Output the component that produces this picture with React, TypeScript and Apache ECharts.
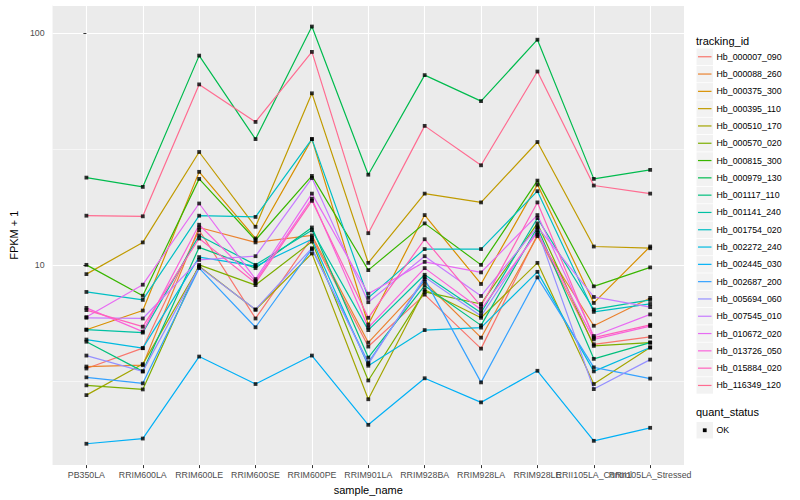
import React, { useEffect, useRef } from "react";
import * as echarts from "echarts";

const categories = [
  "PB350LA", "RRIM600LA", "RRIM600LE", "RRIM600SE", "RRIM600PE", "RRIM901LA",
  "RRIM928BA", "RRIM928LA", "RRIM928LE", "RRII105LA_Control", "RRII105LA_Stressed",
];

const trackingIds = [
  "Hb_000007_090", "Hb_000088_260", "Hb_000375_300", "Hb_000395_110", "Hb_000510_170",
  "Hb_000570_020", "Hb_000815_300", "Hb_000979_130", "Hb_001117_110", "Hb_001141_240",
  "Hb_001754_020", "Hb_002272_240", "Hb_002445_030", "Hb_002687_200", "Hb_005694_060",
  "Hb_007545_010", "Hb_010672_020", "Hb_013726_050", "Hb_015884_020", "Hb_116349_120",
];

const palette = [
  "#F8766D", "#EA8331", "#D89000", "#C09B00", "#A3A500", "#7CAE00", "#39B600", "#00BB4E",
  "#00BF7D", "#00C1A3", "#00BFC4", "#00BAE0", "#00B0F6", "#35A2FF", "#9590FF", "#C77CFF",
  "#E76BF3", "#FA62DB", "#FF62BC", "#FF6C91",
];

// FPKM + 1 per sample (same order as categories)
const hb000007_090 = [3.57, 4.37, 14.1, 5.87, 13.1, 4.44, 7.44, 4.35, 13.5, 4.54, 4.89];
const hb000088_260 = [3.64, 3.69, 14.5, 12.5, 13.4, 4.62, 8.43, 4.85, 13.3, 5.46, 7.2];
const hb000375_300 = [5.25, 6.35, 25.2, 13.0, 34.9, 5.53, 16.4, 8.27, 22.2, 6.85, 12.0];
const hb000395_110 = [9.12, 12.5, 30.7, 14.6, 55.0, 10.2, 20.3, 18.6, 33.9, 12.0, 11.8];
const hb000510_170 = [2.74, 3.73, 9.87, 6.4, 11.2, 2.63, 7.81, 5.91, 10.2, 3.06, 4.4];
const hb000570_020 = [3.02, 2.9, 10.0, 8.18, 12.6, 3.17, 7.64, 6.78, 15.1, 4.47, 4.62];
const hb000815_300 = [10.0, 7.36, 23.5, 12.8, 24.2, 9.49, 15.1, 10.0, 23.1, 8.08, 9.75];
const hb000979_130 = [23.8, 21.7, 80.0, 34.9, 106.8, 24.5, 65.9, 50.9, 93.7, 23.5, 25.7];
const hb001117_110 = [4.66, 3.47, 11.9, 9.68, 14.5, 3.98, 8.13, 5.48, 14.5, 3.93, 4.62];
const hb001141_240 = [5.25, 5.1, 13.4, 10.0, 14.1, 5.23, 9.06, 6.21, 15.9, 6.42, 7.06];
const hb001754_020 = [7.64, 7.06, 16.3, 16.1, 34.9, 7.2, 11.7, 11.7, 20.8, 6.27, 6.78];
const hb002272_240 = [4.76, 4.37, 10.8, 9.87, 12.9, 3.67, 5.23, 5.36, 9.33, 3.47, 4.4];
const hb002445_030 = [1.69, 1.78, 4.02, 3.06, 4.06, 2.04, 3.24, 2.55, 3.49, 1.74, 1.98];
const hb002687_200 = [3.27, 3.08, 9.68, 5.38, 11.7, 3.79, 8.68, 3.11, 8.83, 3.61, 3.23];
const hb005694_060 = [4.06, 3.47, 9.8, 6.42, 11.8, 3.73, 8.86, 6.01, 14.1, 2.91, 3.9];
const hb007545_010 = [5.91, 5.87, 10.5, 10.9, 23.7, 6.9, 10.9, 7.34, 14.6, 7.27, 6.57];
const hb010672_020 = [5.95, 8.21, 18.4, 8.68, 20.3, 7.51, 10.3, 9.28, 16.4, 4.93, 6.11];
const hb013726_050 = [6.52, 5.15, 14.9, 8.51, 19.3, 5.36, 9.68, 6.42, 13.8, 4.77, 5.44];
const hb015884_020 = [6.38, 5.41, 13.0, 8.35, 18.9, 5.91, 12.9, 6.63, 18.6, 4.85, 5.51];
const hb116349_120 = [16.3, 16.2, 60.1, 41.4, 83.0, 13.7, 39.8, 26.9, 68.3, 22.0, 20.3];

const seriesValues = [
  hb000007_090, hb000088_260, hb000375_300, hb000395_110, hb000510_170,
  hb000570_020, hb000815_300, hb000979_130, hb001117_110, hb001141_240,
  hb001754_020, hb002272_240, hb002445_030, hb002687_200, hb005694_060,
  hb007545_010, hb010672_020, hb013726_050, hb015884_020, hb116349_120,
];

const yMinorBreaks = [3.1623, 31.623];
const quantStatus = ["OK"];

const FONT = "'Liberation Sans', Arial, Helvetica, sans-serif";

export default function App() {
  const ref = useRef<HTMLDivElement>(null);

  useEffect(() => {
    document.body.style.margin = "0";
    const chart = echarts.init(ref.current!, null, { renderer: "svg" });

    const catIdx = categories.map((_, i) => i);
    const evenIdx = catIdx.filter((i) => i % 2 === 0);
    const oddIdx = catIdx.filter((i) => i % 2 === 1);

    const lineSeries: any[] = trackingIds.map((name, i) => ({
      type: "line",
      name,
      xAxisIndex: 0,
      data: seriesValues[i].map((v, j) => [j, v]),
      symbol: "none",
      showSymbol: false,
      silent: true,
      z: 2,
      lineStyle: { color: palette[i], width: 1.2 },
      itemStyle: { color: palette[i] },
      emphasis: { disabled: true },
    }));

    lineSeries[0].markLine = {
      silent: true,
      z: 1,
      symbol: ["none", "none"],
      label: { show: false },
      emphasis: { disabled: true },
      lineStyle: { color: "#FFFFFF", width: 0.55, type: "solid" },
      data: yMinorBreaks.map((v) => ({ yAxis: v })),
    };

    const pointSeries = {
      type: "scatter",
      name: "quant_status",
      xAxisIndex: 0,
      data: seriesValues.flatMap((vals) => vals.map((v, j) => [j, v])),
      symbol: "rect",
      symbolSize: 3.8,
      silent: true,
      z: 3,
      itemStyle: { color: "#000000" },
    };

    const legendEls: any[] = [];
    const keyX = 696.5;
    const keySize = 16.5;
    const rowH = 17.3;
    const top0 = 48.5;
    const textStyle = (text: string, size: number) => ({
      text,
      font: `${size}px ${FONT}`,
      fill: "#000",
      textVerticalAlign: "middle",
      verticalAlign: "middle",
    });
    legendEls.push({ type: "text", x: 696, y: 40.5, style: textStyle("tracking_id", 11) });
    trackingIds.forEach((name, i) => {
      const ty = top0 + rowH * i;
      const cy = ty + keySize / 2;
      legendEls.push({
        type: "rect",
        shape: { x: keyX, y: ty, width: keySize, height: keySize },
        style: { fill: "#F2F2F2" },
      });
      legendEls.push({
        type: "line",
        shape: { x1: keyX + 1.5, y1: cy, x2: keyX + keySize - 1.5, y2: cy },
        style: { stroke: palette[i], lineWidth: 1.2 },
      });
      legendEls.push({ type: "text", x: 716.5, y: cy, style: textStyle(name, 8.8) });
    });
    legendEls.push({ type: "text", x: 696, y: 411.5, style: textStyle("quant_status", 11) });
    quantStatus.forEach((label, i) => {
      const ty = 422 + rowH * i;
      const cy = ty + keySize / 2;
      legendEls.push({
        type: "rect",
        shape: { x: keyX, y: ty, width: keySize, height: keySize },
        style: { fill: "#F2F2F2" },
      });
      legendEls.push({
        type: "rect",
        shape: { x: keyX + keySize / 2 - 1.9, y: cy - 1.9, width: 3.8, height: 3.8 },
        style: { fill: "#000" },
      });
      legendEls.push({ type: "text", x: 716.5, y: cy, style: textStyle(label, 8.8) });
    });

    const labelBase = {
      interval: 0,
      hideOverlap: false,
      formatter: (v: number) => categories[Math.round(v)] ?? "",
      color: "#4D4D4D",
      fontSize: 8.8,
      fontFamily: FONT,
      margin: 5,
    };

    const option: any = {
      animation: false,
      backgroundColor: "#FFFFFF",
      textStyle: { fontFamily: FONT },
      grid: {
        left: 40,
        top: 5.3,
        width: 644,
        height: 463,
        show: true,
        backgroundColor: "#EBEBEB",
        borderWidth: 0,
        containLabel: false,
      },
      xAxis: [
        {
          type: "value",
          position: "bottom",
          min: -0.6,
          max: 10.6,
          axisLine: { show: false },
          axisTick: {
            show: true,
            length: 3,
            customValues: catIdx,
            lineStyle: { color: "#333333", width: 1 },
          },
          axisLabel: { ...labelBase, customValues: evenIdx },
          splitLine: { show: true, lineStyle: { color: "#FFFFFF", width: 1.1 } },
          name: "sample_name",
          nameLocation: "middle",
          nameGap: 15,
          nameTextStyle: { fontSize: 11, color: "#000", fontFamily: FONT },
        },
        {
          type: "value",
          position: "bottom",
          offset: 0,
          min: -0.6,
          max: 10.6,
          axisLine: { show: false },
          axisTick: { show: false },
          axisLabel: { ...labelBase, customValues: oddIdx },
          splitLine: { show: false },
        },
      ],
      yAxis: {
        type: "log",
        logBase: 10,
        min: 1.367,
        max: 131.9,
        axisLine: { show: false },
        axisTick: { show: true, length: 3, lineStyle: { color: "#333333", width: 1 } },
        axisLabel: {
          showMinLabel: false,
          showMaxLabel: false,
          color: "#4D4D4D",
          fontSize: 8.8,
          fontFamily: FONT,
          margin: 8,
        },
        splitLine: { show: true, lineStyle: { color: "#FFFFFF", width: 1.1 } },
        name: "FPKM + 1",
        nameLocation: "middle",
        nameGap: 22,
        nameRotate: 90,
        nameTextStyle: { fontSize: 11, color: "#000", fontFamily: FONT },
      },
      series: [...lineSeries, pointSeries],
      graphic: { elements: legendEls },
    };

    chart.setOption(option);
    return () => chart.dispose();
  }, []);

  return <div ref={ref} style={{ width: 800, height: 500 }} />;
}
